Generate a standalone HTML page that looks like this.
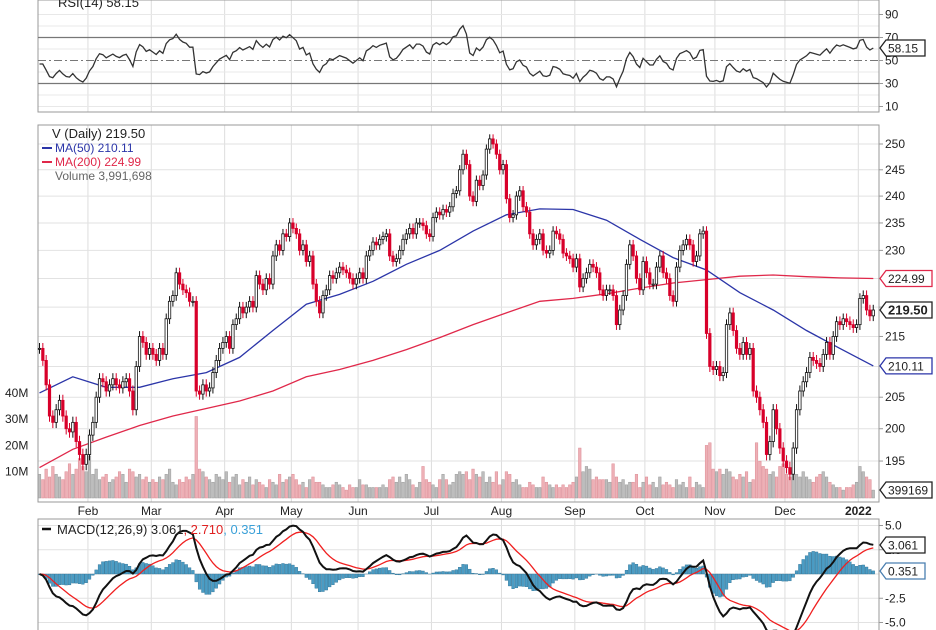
<!DOCTYPE html>
<html><head><meta charset="utf-8"><style>
html,body{margin:0;padding:0;background:#fff;}
svg{display:block;font-family:"Liberation Sans",sans-serif;}
</style></head><body>
<svg id="chart" width="936" height="630" viewBox="0 0 936 630" xmlns="http://www.w3.org/2000/svg">
<rect x="0" y="0" width="936" height="630" fill="#fff"/>
<g id="grid"></g>
<g id="vol"></g>
<g id="lines"></g>
<g id="candles"></g>
<g id="rsi"></g>
<g id="macd"></g>
<g id="labels"></g>
</svg>
<script>
const closes = [213,211,207,202,201,203,204.5,202,200,199.5,201,198,196,194.5,196,
199,201,205,208,207.5,206,207,208,207,206.5,207.5,208,206,203,210,215,214,212,213,
212,211,213,212,218,221,222,226,224,223,222.5,221,221,206,205.5,207,206,206.5,209,211,213,214,
215,213,217,218,220,219,220,221,220,225.5,224,223,225,224,229,231,230,233,232.5,235,
234,233,230,231,228,229,224,221,219,222,223,225.5,225,226,227,226.5,226,225,224,225,226,225,
229,230,231.5,231,232,232.5,233,229,228,228.5,230,232,233,234,233,235,235,234.5,233,232.5,236,237,236.5,
237.5,237,238,240.5,241,245,248,246,240,239,243,242,244,249,251,250,248,245,246,239.5,
236,236.5,240,241,238,237,233,231,232,233,230,229.5,230,233.5,233,232,229.5,229,228.5,227,228.5,223.5,
225,226,227.5,227,226,223,222,223,223,222,217,219.5,222,227.5,231,229,225,223,228,226,224,
224,227,229,226,225,222,221,227,230,231,232,231,228,229,233,233.5,215.5,210,209.5,210,208.5,
209,217,219,216,213,212,214,212,213,206,205,203,201,196,198,203,200,197,195,194,193,
197,203,206,207.5,209,211.5,211,210.5,210,212,214,212,215,217.5,217,218,217.5,217,216.5,217,221.5,222,219.5,218.5,219.5];
const volumes = [9,7,11,8,12,9,8,7,10,13,9,11,15,12,10,
16,9,11,7,8,9,6,7,8,10,9,6,11,10,8,9,7,8,6,
7,6,8,7,9,11,6,5,7,6,8,7,9,31,11,10,8,7,6,9,8,7,
10,6,8,9,5,7,6,8,5,7,6,5,4,7,6,5,9,6,7,8,
9,7,5,6,4,7,8,6,6,5,4,4,5,6,5,4,3,5,4,4,7,5,
5,4,4,4,4,5,4,7,8,6,8,6,9,7,5,4,6,12,7,6,5,4,7,
9,7,5,6,9,10,9,10,7,11,9,8,10,6,8,6,10,5,7,10,
9,6,7,5,4,4,6,5,4,4,8,6,5,4,5,4,5,4,5,6,8,19,
10,12,11,7,8,7,7,7,6,13,8,6,7,5,6,6,9,4,6,8,5,
6,4,8,5,6,5,4,7,5,6,4,8,4,6,5,4,20,21,11,10,11,
9,11,10,8,7,9,8,10,6,7,21,14,12,11,9,10,8,12,13,9,8,
10,9,8,10,8,7,6,8,9,10,8,6,5,4,4,3,4,4,5,6,12,10,8,7,3];
// moving averages sampled every 10 bars
const maStep = 10;
const ma50 = [205.7,208.3,206.6,206.6,208,209,211.5,216,220.5,222.2,224.5,227.5,230,233.5,236.5,237.6,237.5,235.5,232,228.7,226.5,222.5,219.5,216,213,210.1];
const ma200 = [194,196.8,198.7,200.5,202,203.2,204.4,206,208.3,209.5,211,212.8,214.8,217,219,221,221.5,222.3,223.3,224.2,224.8,225.4,225.6,225.3,225.1,224.99];
const monthNames = ["Feb","Mar","Apr","May","Jun","Jul","Aug","Sep","Oct","Nov","Dec","2022"];
const monthIdx = [15,34,56,76,96,118,139,161,182,203,224,246];
const priceTicks = [250,245,240,235,230,225,220,215,210,205,200,195];
const volTicks = [40,30,20,10];
const rsiTicks = [90,70,50,30,10];
const macdTicks = [5,2.5,0,-2.5,-5];

const NS="http://www.w3.org/2000/svg";
const L=38, R=879;
const xI=i=>39.5+i*3.335;
const yP=p=>144+1276*(Math.log(250)-Math.log(p));
const yV=v=>498-v*2.63;
const yR=r=>60.5-(r-50)*1.15;
const yM=m=>574-m*9.7;
function mk(parent,tag,attrs,text){const e=document.createElementNS(NS,tag);for(const k in attrs)e.setAttribute(k,attrs[k]);if(text!==undefined)e.textContent=text;document.getElementById(parent).appendChild(e);return e;}

const N=Math.min(closes.length,volumes.length);
const opens=closes.map((c,i)=>i?closes[i-1]:c);

// ---- grid & frames
[[0,112],[125,502],[519,630]].forEach(([t,b],k)=>{
  monthIdx.forEach((mi,j)=>{const g=mk('grid','line',{x1:xI(mi)-1.6,x2:xI(mi)-1.6,y1:t,y2:b,stroke:'#ddd','stroke-width':1});
  
  });
});
priceTicks.forEach(p=>{const g=mk('grid','line',{x1:L,x2:R,y1:yP(p),y2:yP(p),stroke:'#e2e2e2'});

});
[90,80,60,40,20,10].forEach(r=>{const g=mk('grid','line',{x1:L,x2:R,y1:yR(r),y2:yR(r),stroke:'#e8e8e8'});

});
macdTicks.forEach(m=>{const g=mk('grid','line',{x1:L,x2:R,y1:yM(m),y2:yM(m),stroke:'#e2e2e2'});

});
[[0,112],[125,502],[519,631]].forEach(([t,b])=>{const f=mk('grid','rect',{x:L,y:t,width:R-L,height:b-t,fill:'none',stroke:'#999'});

});

// ---- volume
for(let i=0;i<N;i++){const up=closes[i]>=opens[i];const y=yV(volumes[i]);
const b=mk('vol','rect',{x:xI(i)-1.3,y:y,width:2.6,height:498-y,fill:up?'#bdbdbd':'#eeb0b6',stroke:up?'#9a9a9a':'#dc8c95','stroke-width':0.5});

}

// ---- moving averages
function maPath(arr){return arr.map((v,k)=>(k?'L':'M')+xI(k*maStep).toFixed(1)+','+yP(v).toFixed(1)).join('');}
const m2=mk('lines','path',{d:maPath(ma200),fill:'none',stroke:'#e0284a','stroke-width':1.3});


const m5=mk('lines','path',{d:maPath(ma50),fill:'none',stroke:'#2b35a8','stroke-width':1.3});



// ---- candles
for(let i=0;i<N;i++){const o=opens[i],c=closes[i],up=c>=o;const col=up?'#111':'#d8002a';
const hi=Math.max(o,c)+0.9,lo=Math.min(o,c)-0.9;
const w=mk('candles','line',{x1:xI(i),x2:xI(i),y1:yP(hi),y2:yP(lo),stroke:col,'stroke-width':1});


const yt=yP(Math.max(o,c)),yb=yP(Math.min(o,c));
const bd=mk('candles','rect',{x:xI(i)-1.2,y:yt,width:2.4,height:Math.max(1,yb-yt),fill:up?'#fff':'#d8002a',stroke:col,'stroke-width':0.8});

}

// ---- RSI (computed from closes)
const rsi=[];let ag=0,al=0;
for(let i=1;i<N;i++){const d=closes[i]-closes[i-1];const g=Math.max(d,0),l=Math.max(-d,0);
 if(i===1){ag=1.2;al=1.2;}
 ag=(ag*13+g)/14;al=(al*13+l)/14;rsi[i]=al===0?100:100-100/(1+ag/al);}
rsi[0]=rsi[1];
[70,30].forEach(v=>{const e=mk('rsi','line',{x1:L,x2:R,y1:yR(v),y2:yR(v),stroke:'#777','stroke-width':1.2});

});
const mid=mk('rsi','line',{x1:L,x2:R,y1:yR(50),y2:yR(50),stroke:'#777','stroke-dasharray':'8,3,2,3'});


const rl=mk('rsi','path',{d:rsi.map((v,i)=>(i?'L':'M')+xI(i).toFixed(1)+','+yR(v).toFixed(1)).join(''),fill:'none',stroke:'#333','stroke-width':1.3});



// ---- MACD
function ema(a,n){const k=2/(n+1);const o=[];a.forEach((v,i)=>{o[i]=i?o[i-1]+k*(v-o[i-1]):v;});return o;}
const e12=ema(closes,12),e26=ema(closes,26);
const macd=e12.map((v,i)=>v-e26[i]);const sig=ema(macd,9);const hist=macd.map((v,i)=>v-sig[i]);
const cp=mk('macd','clipPath',{id:'mclip'});
const cr=document.createElementNS(NS,'rect');cr.setAttribute('x',L);cr.setAttribute('y',520);cr.setAttribute('width',R-L);cr.setAttribute('height',110);cp.appendChild(cr);
const mg=mk('macd','g',{'clip-path':'url(#mclip)'});mg.setAttribute('id','mg');
for(let i=0;i<N;i++){const y0=yM(0),y1=yM(hist[i]);
const h=mk('mg','rect',{x:xI(i)-1.4,y:Math.min(y0,y1),width:2.8,height:Math.abs(y1-y0)||0.5,fill:'#4a9cc4',stroke:'#2a6e92','stroke-width':0.4});

}
const sl=mk('mg','path',{d:sig.map((v,i)=>(i?'L':'M')+xI(i).toFixed(1)+','+yM(v).toFixed(1)).join(''),fill:'none',stroke:'#f02020','stroke-width':1.3});


const ml=mk('mg','path',{d:macd.map((v,i)=>(i?'L':'M')+xI(i).toFixed(1)+','+yM(v).toFixed(1)).join(''),fill:'none',stroke:'#111','stroke-width':2});



// ---- labels
function txt(x,y,s,opt,name){const t=mk('labels','text',Object.assign({x:x,y:y,'font-size':12,fill:'#222'},opt||{}),s);

return t;}
function tick(y){const t=mk('labels','line',{x1:R,x2:R+4,y1:y,y2:y,stroke:'#999'});

}
priceTicks.forEach(p=>{tick(yP(p));txt(885,yP(p)+4,String(p),{},'price-tick-label');});
volTicks.forEach(v=>txt(5,yV(v)+4,v+'M',{},'volume-tick-label'));
rsiTicks.forEach(r=>{tick(yR(r));txt(885,yR(r)+4,String(r),{},'rsi-tick-label');});
macdTicks.filter(m=>m!==0).forEach(m=>{tick(yM(m));txt(885,yM(m)+4,m.toFixed(1),{},'macd-tick-label');});
monthNames.forEach((s,j)=>txt(xI(monthIdx[j])-1.6,515,s,{'text-anchor':'middle','font-weight':s==='2022'?'bold':'normal'},'month-label'));
function box(y,s,col,name,bold){const w=s.length*7+4;
const p=mk('labels','path',{d:`M${R+1},${y} L${R+7},${y-8} L${R+7+w},${y-8} L${R+7+w},${y+8} L${R+7},${y+8} Z`,fill:'#fff',stroke:col,'stroke-width':1.3});


txt(R+9,y+4.5,s,{'font-weight':bold?'bold':'normal','font-size':bold?13:12},name);}
box(yP(ma200[ma200.length-1]),'224.99','#e0284a','ma200-value-label');
box(yP(closes[N-1]),'219.50','#222','last-price-label',true);
box(yP(ma50[ma50.length-1]),'210.11','#2b35a8','ma50-value-label');
box(490,'399169','#222','last-volume-label');
box(48,'58.15','#222','rsi-value-label');
box(545,'3.061','#222','macd-value-label');
box(571,'0.351','#4a7fb0','macd-hist-value-label');
// legends
txt(58,7,'RSI(14) 58.15',{'font-size':13},'rsi-legend');
txt(52,138,'V (Daily) 219.50',{'font-size':13},'price-legend');
txt(55,152,'MA(50) 210.11',{fill:'#2b35a8'},'ma50-legend');
txt(55,166,'MA(200) 224.99',{fill:'#e0284a'},'ma200-legend');
txt(55,180,'Volume 3,991,698',{fill:'#666'},'volume-legend');
[[42,148,'#2b35a8'],[42,162,'#e0284a']].forEach(([x,y,c])=>{const l=mk('labels','line',{x1:x,x2:x+10,y1:y,y2:y,stroke:c,'stroke-width':2});

});
const ms=mk('labels','line',{x1:42,x2:51,y1:529,y2:529,stroke:'#111','stroke-width':2.5});


const mt=mk('labels','text',{x:57,y:534,'font-size':13,fill:'#222'});


[['MACD(12,26,9) 3.061','#222'],[', 2.710','#e02020'],[', 0.351','#3aa0d8']].forEach(([s,c])=>{const ts=document.createElementNS(NS,'tspan');ts.setAttribute('fill',c);ts.textContent=s;mt.appendChild(ts);});
</script>
</body></html>
